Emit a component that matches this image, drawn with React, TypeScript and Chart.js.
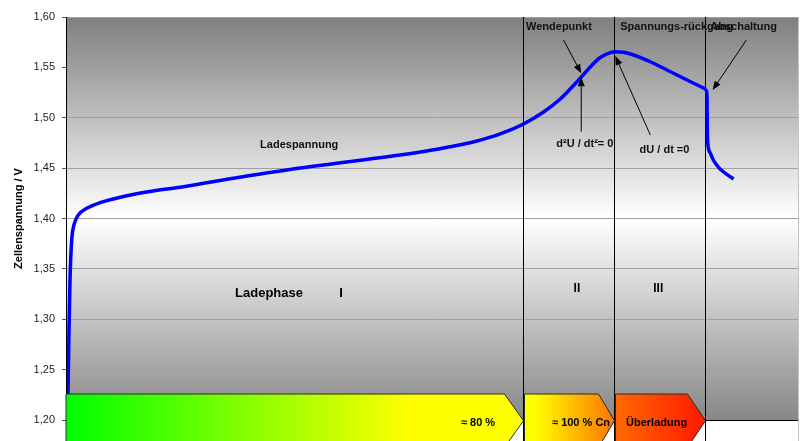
import React, { useEffect, useRef } from 'react';
import { Chart, registerables } from 'chart.js';

Chart.register(...registerables);

// ---- data ----
const X_MIN = 0;
const X_MAX = 8.04;
const PHASE_LINES = [5.02, 6.02, 7.02];
const Y_MIN = 1.2;
const Y_MAX = 1.6;
const Y_TICKS = [1.2, 1.25, 1.3, 1.35, 1.4, 1.45, 1.5, 1.55, 1.6];

// charging curve up to the cut-off point
const TIME_CHARGE = [
  0.0165, 0.022, 0.033, 0.044, 0.0626, 0.077, 0.0989, 0.135, 0.227, 0.374, 0.667,
  0.956, 1.253, 1.769, 2.571, 3.67, 3.945, 4.22, 4.494, 4.769, 5.025, 5.245, 5.429,
  5.538, 5.648, 5.758, 5.868, 5.978, 6.033, 6.124, 6.234, 6.418, 6.601, 6.821, 7.033,
];
const VOLTAGE_CHARGE = [
  1.2, 1.2248, 1.2893, 1.339, 1.3787, 1.3896, 1.3968, 1.4035, 1.4101, 1.4157, 1.4226,
  1.4273, 1.431, 1.4389, 1.4501, 1.463, 1.4668, 1.4712, 1.4764, 1.4839, 1.4938, 1.5057,
  1.5186, 1.5285, 1.5392, 1.5504, 1.5598, 1.5646, 1.5656, 1.565, 1.5623, 1.5556, 1.5474,
  1.5375, 1.5282,
];
// voltage drop after cut-off
const TIME_CUTOFF = [7.033, 7.041, 7.044, 7.049, 7.077, 7.11, 7.165, 7.22, 7.333];
const VOLTAGE_CUTOFF = [1.5282, 1.5176, 1.4878, 1.4749, 1.465, 1.4581, 1.4511, 1.4464, 1.4392];

const Y_TITLE = 'Zellenspannung / V';
const PHASE_ARROW_LABELS = ['≈ 80 %', '≈ 100 % Cn', 'Überladung'];
const PHASE_LABELS = ['Ladephase', 'I', 'II', 'III'];
const NOTE_LABELS = ['Wendepunkt', 'Spannungs-rückgang', 'Abschaltung', 'd²U / dt²= 0', 'dU / dt =0', 'Ladespannung'];

const FONT = "'Liberation Sans', Arial, sans-serif";

function drawArrow(ctx: CanvasRenderingContext2D, x1: number, y1: number, x2: number, y2: number) {
  const ang = Math.atan2(y2 - y1, x2 - x1);
  const len = 9;
  const hw = 3.5;
  ctx.save();
  ctx.strokeStyle = '#000';
  ctx.fillStyle = '#000';
  ctx.lineWidth = 1;
  ctx.beginPath();
  ctx.moveTo(x1, y1);
  ctx.lineTo(x2 - Math.cos(ang) * len * 0.8, y2 - Math.sin(ang) * len * 0.8);
  ctx.stroke();
  ctx.beginPath();
  ctx.moveTo(x2, y2);
  ctx.lineTo(x2 - Math.cos(ang) * len - Math.sin(ang) * hw, y2 - Math.sin(ang) * len + Math.cos(ang) * hw);
  ctx.lineTo(x2 - Math.cos(ang) * len + Math.sin(ang) * hw, y2 - Math.sin(ang) * len - Math.cos(ang) * hw);
  ctx.closePath();
  ctx.fill();
  ctx.restore();
}

const decor = {
  id: 'decor',
  beforeDraw(chart: any) {
    const { ctx, chartArea: a } = chart;
    ctx.save();
    const g = ctx.createLinearGradient(0, a.top, 0, a.bottom);
    g.addColorStop(0, '#7f7f7f');
    g.addColorStop(0.5, '#ffffff');
    g.addColorStop(1, '#878787');
    ctx.fillStyle = g;
    ctx.fillRect(a.left, a.top, a.right - a.left, a.bottom - a.top);
    ctx.restore();
  },
  beforeDatasetsDraw(chart: any) {
    const { ctx, chartArea: a, height } = chart;
    const xs = chart.scales.x;
    ctx.save();
    ctx.strokeStyle = '#000';
    ctx.lineWidth = 1;
    PHASE_LINES.forEach((v) => {
      const x = Math.round(xs.getPixelForValue(v)) + 0.5;
      ctx.beginPath();
      ctx.moveTo(x, a.top);
      ctx.lineTo(x, height);
      ctx.stroke();
    });
    ctx.restore();
  },
  afterDatasetsDraw(chart: any) {
    const { ctx, chartArea: a, height } = chart;
    const xs = chart.scales.x;
    const ys = chart.scales.y;
    const px = (v: number) => xs.getPixelForValue(v);
    const py = (v: number) => ys.getPixelForValue(v);

    ctx.save();
    // axis lines
    ctx.strokeStyle = '#000';
    ctx.lineWidth = 1;
    ctx.beginPath();
    ctx.moveTo(a.left + 0.5, a.top);
    ctx.lineTo(a.left + 0.5, height);
    ctx.moveTo(a.left, a.bottom + 0.5);
    ctx.lineTo(a.right, a.bottom + 0.5);
    ctx.stroke();
    ctx.strokeStyle = '#c4c4c4';
    ctx.beginPath();
    ctx.moveTo(a.right + 0.5, a.top);
    ctx.lineTo(a.right + 0.5, height);
    ctx.stroke();

    // phase arrows
    const bounds = [
      [X_MIN, PHASE_LINES[0]],
      [PHASE_LINES[0], PHASE_LINES[1]],
      [PHASE_LINES[1], PHASE_LINES[2]],
    ];
    const fills = [
      [[0, '#00ff00'], [0.75, '#ffff00'], [1, '#ffff00']],
      [[0, '#ffff00'], [0.12, '#ffff00'], [1, '#ff7400']],
      [[0, '#ff6a00'], [1, '#ff1800']],
    ];
    const top = a.bottom - 26;
    const mid = a.bottom + 0.7;
    const bot = a.bottom + 27.4;
    const tips = [19, 16, 18];
    bounds.forEach(([v0, v1], i) => {
      const x0 = Math.round(px(v0)) + (i === 0 ? 0 : 1.5);
      const x1 = Math.round(px(v1)) + 0.5;
      const g = ctx.createLinearGradient(x0, 0, x1, 0);
      (fills[i] as any).forEach(([o, c]: any) => g.addColorStop(o, c));
      ctx.beginPath();
      ctx.moveTo(x0, top);
      ctx.lineTo(x1 - tips[i], top);
      ctx.lineTo(x1, mid);
      ctx.lineTo(x1 - tips[i], bot);
      ctx.lineTo(x0, bot);
      ctx.closePath();
      ctx.fillStyle = g;
      ctx.fill();
      ctx.strokeStyle = '#2a2a2a';
      ctx.lineWidth = 1;
      ctx.stroke();
    });
    ctx.fillStyle = '#000';
    ctx.font = `bold 11px ${FONT}`;
    ctx.textAlign = 'center';
    ctx.textBaseline = 'middle';
    ctx.fillText(PHASE_ARROW_LABELS[0], px(4.526), a.bottom + 3);
    ctx.fillText(PHASE_ARROW_LABELS[1], px(5.657), a.bottom + 3);
    ctx.fillText(PHASE_ARROW_LABELS[2], px(6.487), a.bottom + 3);

    // phase labels
    ctx.font = `bold 13px ${FONT}`;
    ctx.textAlign = 'left';
    ctx.fillText(PHASE_LABELS[0], px(1.857), py(1.3258));
    ctx.fillText(PHASE_LABELS[1], px(3.0), py(1.3258));
    ctx.font = `bold 12px ${FONT}`;
    ctx.textAlign = 'center';
    ctx.fillText(PHASE_LABELS[2], px(5.612), py(1.3307));
    ctx.fillText(PHASE_LABELS[3], px(6.505), py(1.3307));

    // notes
    ctx.font = `bold 11px ${FONT}`;
    ctx.fillStyle = '#111';
    ctx.textAlign = 'center';
    ctx.fillText(NOTE_LABELS[0], px(5.414), py(1.5898));
    ctx.textAlign = 'left';
    ctx.fillText(NOTE_LABELS[1], px(6.088), py(1.5898));
    ctx.fillText(NOTE_LABELS[2], px(7.077), py(1.5898));
    ctx.fillText(NOTE_LABELS[3], px(5.385), py(1.4737));
    ctx.fillText(NOTE_LABELS[4], px(6.3), py(1.468));
    ctx.fillText(NOTE_LABELS[5], px(2.132), py(1.473));

    // annotation arrows
    drawArrow(ctx, px(5.465), py(1.5772), px(5.659), py(1.5441));
    drawArrow(ctx, px(5.659), py(1.4862), px(5.659), py(1.5401));
    drawArrow(ctx, px(6.418), py(1.4829), px(6.033), py(1.5613));
    drawArrow(ctx, px(7.473), py(1.5772), px(7.102), py(1.5275));

    // y title
    ctx.translate(19, (a.top + a.bottom) / 2);
    ctx.rotate(-Math.PI / 2);
    ctx.font = `bold 11px ${FONT}`;
    ctx.fillStyle = '#000';
    ctx.textAlign = 'center';
    ctx.textBaseline = 'middle';
    ctx.fillText(Y_TITLE, 0, 0);
    ctx.restore();
  },
};

const lineStyle = {
  borderColor: '#0000ff',
  borderWidth: 3.5,
  pointRadius: 0,
  cubicInterpolationMode: 'monotone',
  fill: false,
};

export default function App() {
  const ref = useRef<HTMLCanvasElement | null>(null);
  useEffect(() => {
    if (!ref.current) return;
    const chart = new Chart(ref.current, {
      type: 'line',
      data: {
        datasets: [
          {
            label: 'Ladespannung',
            data: TIME_CHARGE.map((t, i) => ({ x: t, y: VOLTAGE_CHARGE[i] })),
            ...lineStyle,
          },
          {
            label: 'Abschaltung',
            data: TIME_CUTOFF.map((t, i) => ({ x: t, y: VOLTAGE_CUTOFF[i] })),
            ...lineStyle,
          },
        ],
      },
      options: {
        animation: false,
        responsive: false,
        layout: { padding: { top: 17, bottom: 21, left: 0, right: 3 } },
        plugins: { legend: { display: false }, tooltip: { enabled: false } },
        scales: {
          x: { type: 'linear', min: X_MIN, max: X_MAX, display: false },
          y: {
            type: 'linear',
            min: Y_MIN,
            max: Y_MAX,
            afterBuildTicks: (s: any) => {
              s.ticks = Y_TICKS.map((v) => ({ value: v }));
            },
            afterFit: (s: any) => {
              s.width = 66;
            },
            ticks: {
              callback: (v: any) => Number(v).toFixed(2).replace('.', ','),
              color: '#222',
              font: { family: FONT, size: 11 },
              padding: 7,
            },
            grid: { color: '#a0a0a0', tickLength: 4, tickColor: '#555' },
            border: { color: '#000', width: 1 },
          },
        },
      },
      plugins: [decor],
    } as any);
    return () => chart.destroy();
  }, []);
  return (
    <div style={{ position: 'fixed', left: 0, top: 0, width: 801, height: 441, background: '#fff' }}>
      <canvas ref={ref} width={801} height={441} style={{ display: 'block' }} />
    </div>
  );
}
